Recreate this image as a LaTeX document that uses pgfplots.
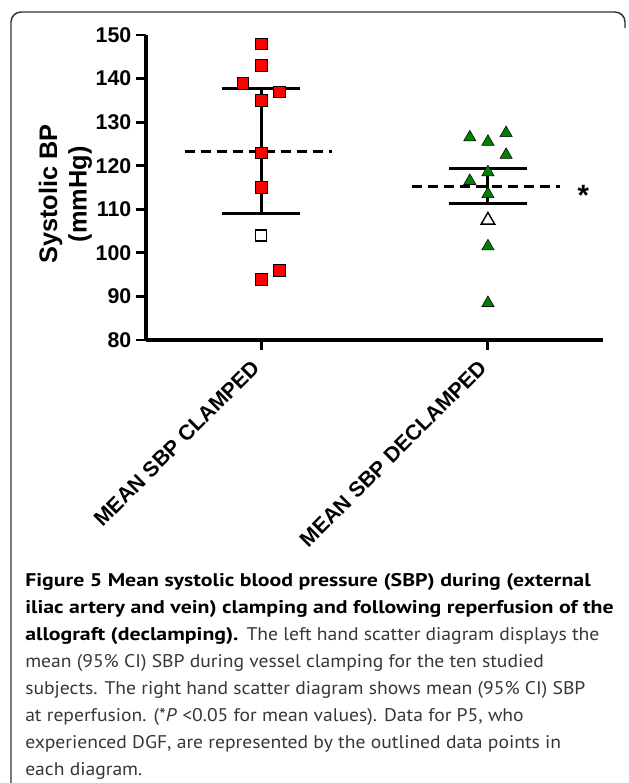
\documentclass[border=0pt]{standalone}
\usepackage{fontspec}
\usepackage{pgfplots}
\pgfplotsset{compat=1.18}
\newfontfamily\chartfont{Liberation Sans}
\newfontfamily\capbf{PT Sans}[FakeStretch=1.19]
\newfontfamily\capreg{PT Sans}[FakeStretch=1.07]
\definecolor{sqred}{RGB}{255,0,0}
\definecolor{trigreen}{RGB}{0,128,0}
\definecolor{capgray}{RGB}{55,55,55}

\begin{document}
\begin{tikzpicture}
\begin{scope}[x=0.75pt,y=-0.75pt]
\useasboundingbox (0,0) rectangle (629,783);
% frame around figure and caption
\draw[line width=1.1pt, black!80, rounded corners=7.5pt] (11,795) -- (11,12) -- (625,12) -- (625,28);
\coordinate (O) at (146,340);
% caption, line by line as in the source
\begin{scope}[every node/.style={anchor=base west, inner sep=0pt, font=\fontsize{13.75}{16}\selectfont}]
\node at (25,586) {\capbf\bfseries Figure 5 Mean systolic blood pressure (SBP) during (external};
\node at (25,613) {\capbf\bfseries iliac artery and vein) clamping and following reperfusion of the};
\node at (25,640) {{\capbf\bfseries allograft (declamping).} \capreg\color{capgray}The left hand scatter diagram displays the};
\node[text=capgray] at (25,667) {\capreg mean (95\% CI) SBP during vessel clamping for the ten studied};
\node[text=capgray] at (25,694) {\capreg subjects. The right hand scatter diagram shows mean (95\% CI) SBP};
\node[text=capgray] at (25,721) {\capreg at reperfusion. (*\textit{P} <0.05 for mean values). Data for P5, who};
\node[text=capgray] at (25,748) {\capreg experienced DGF, are represented by the outlined data points in};
\node[text=capgray] at (25,775) {\capreg each diagram.};
\end{scope}
\end{scope}

\begin{axis}[
    at={(O)}, anchor=south west,
    scale only axis, width=342.75pt, height=228.75pt,
    xmin=0.493, xmax=2.507, ymin=80, ymax=150,
    axis lines=left,
    axis line style={-, line width=2.6pt},
    clip=false,
    xtick={1,2},
    xticklabels={MEAN SBP CLAMPED, MEAN SBP DECLAMPED},
    ytick={80,90,...,150},
    tick align=outside,
    major tick length=7.5pt,
    tick style={line width=2.2pt, black},
    /pgf/number format/assume math mode=true,
    tick label style={font=\chartfont\bfseries\fontsize{16}{19}\selectfont},
    xticklabel style={xshift=-1.5pt, yshift=-8pt, rotate=45, anchor=east},
    ylabel={Systolic BP\\(mmHg)},
    ylabel style={align=center, font=\chartfont\bfseries\fontsize{19}{22}\selectfont, yshift=-4pt, xshift=-5pt},
]
% clamped: CI and mean
\addplot[black, line width=2.2pt] coordinates {(1,109.1) (1,137.7)};
\addplot[black, line width=2.2pt] coordinates {(0.83,137.7) (1.17,137.7)};
\addplot[black, line width=2.2pt] coordinates {(0.83,109.1) (1.17,109.1)};
\addplot[black, line width=2.2pt, dash pattern=on 7.5pt off 4.5pt] coordinates {(0.665,123.3) (1.313,123.3)};
% declamped: CI and mean
\addplot[black, line width=2.2pt] coordinates {(2,111.3) (2,119.3)};
\addplot[black, line width=2.2pt] coordinates {(1.83,119.3) (2.17,119.3)};
\addplot[black, line width=2.2pt] coordinates {(1.83,111.3) (2.17,111.3)};
\addplot[black, line width=2.2pt, dash pattern=on 7.5pt off 4.5pt] coordinates {(1.664,115.2) (2.317,115.2)};
% subjects
\addplot[only marks, mark=square*, mark size=4.4pt, draw=none, mark options={fill=sqred, draw=none}] coordinates {
    (1,148) (1,143) (0.92,139) (1.08,137) (1,135) (1,123) (1,115) (1,94) (1.08,96)
};
\addplot[only marks, mark=square, mark size=4.1pt, mark options={draw=black, line width=1.1pt, fill=white}] coordinates {(1,104)};
\addplot[only marks, mark=triangle*, mark size=5.3pt, mark options={fill=trigreen, draw=none}] coordinates {
    (1.92,126.5) (2,125.5) (2.08,127.5) (2.08,122.5) (2,118.5) (1.92,116.5) (2,113.5) (2,101.5) (2,88.5)
};
\addplot[only marks, mark=triangle, mark size=5.8pt, mark options={draw=black, line width=1.1pt}] coordinates {(2,107.5)};
\node[font=\chartfont\bfseries\fontsize{22}{24}\selectfont] at (axis cs:2.42,113.3) {*};
\end{axis}
\end{tikzpicture}
\end{document}
